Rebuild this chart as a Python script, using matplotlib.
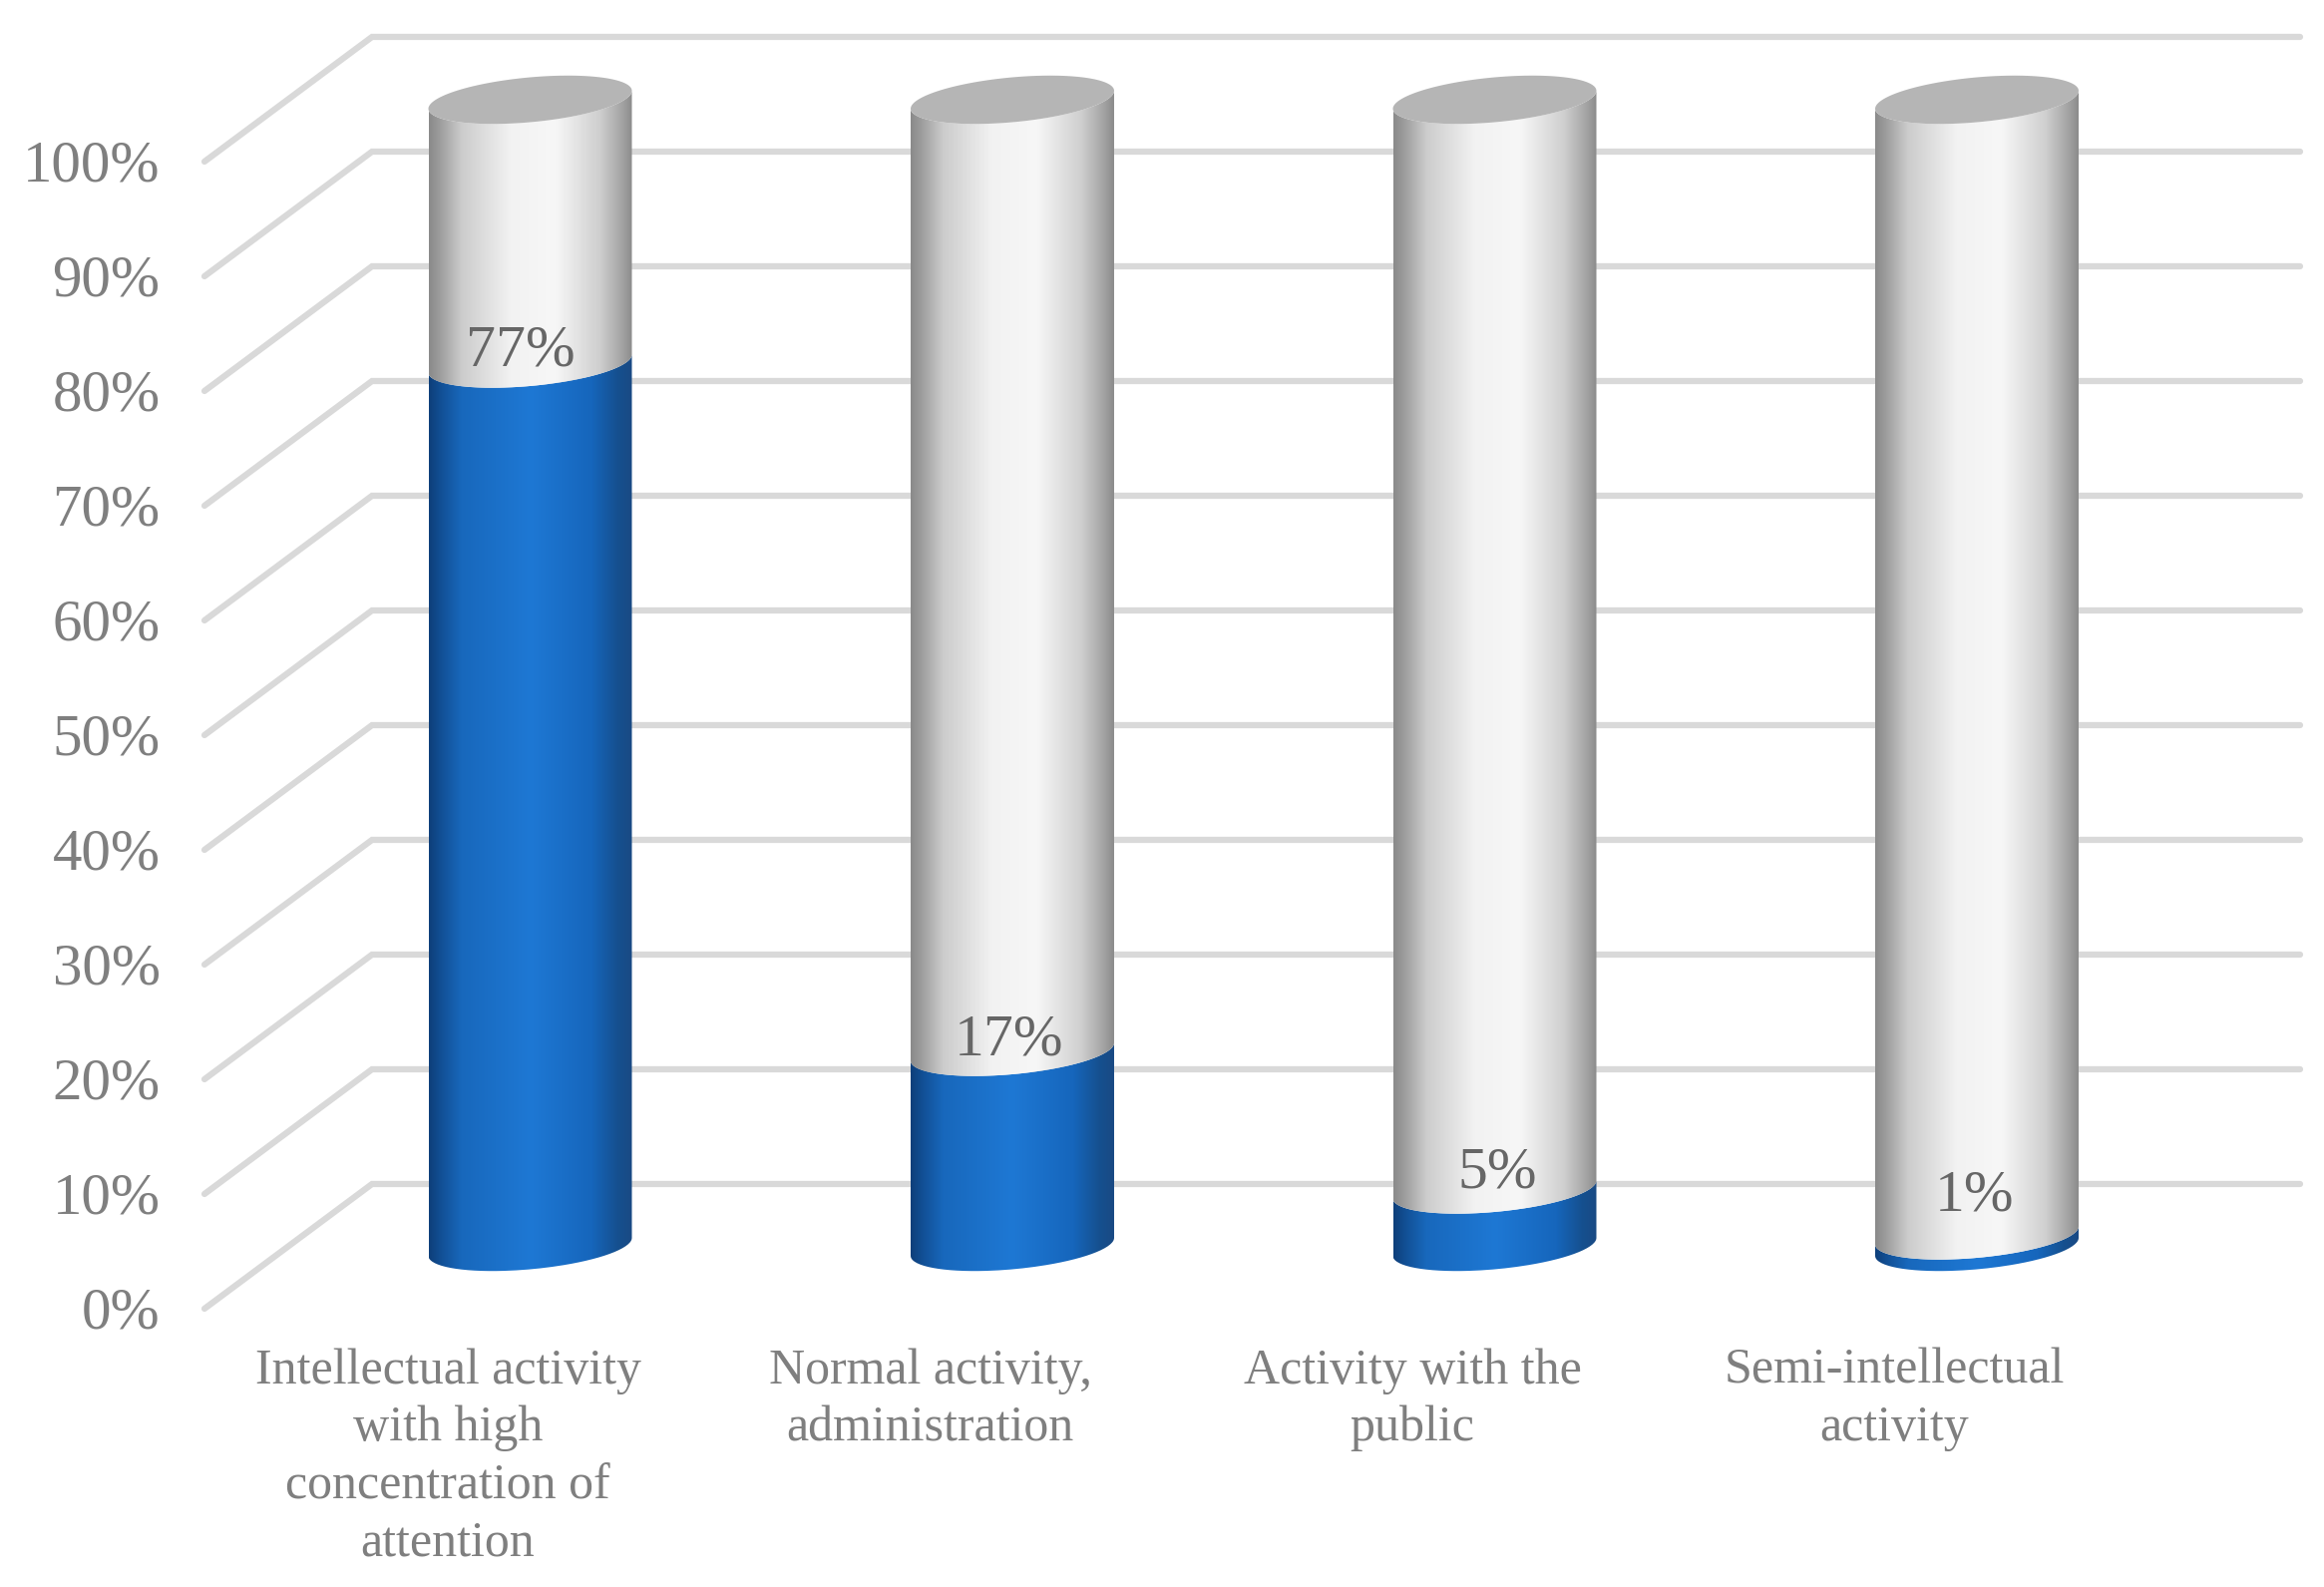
import numpy as np
import matplotlib
matplotlib.use("Agg")
import matplotlib.pyplot as plt
from matplotlib.path import Path
from matplotlib.patches import PathPatch
from matplotlib.colors import to_rgb

categories = ["Intellectual activity\nwith high\nconcentration of\nattention",
              "Normal activity,\nadministration",
              "Activity with the\npublic",
              "Semi-intellectual\nactivity"]
values = [77, 17, 5, 1]
value_labels = ["77%", "17%", "5%", "1%"]
grid_values = list(range(0, 101, 10))
grid_labels = [f"{v}%" for v in grid_values]

# ---- layout / style -------------------------------------------------------
W, H = 2330, 1591
PX_L, PX_R, PX_T, PX_B = 205, 2306, 36, 1311      # axes box in image pixels
PX_X0, PX_DX = 531.5, 483.5                        # first bar centre, bar spacing
PX_Y0, PX_DY = 1250, 11.5                          # p = 0 at bar base centre, px per %
FRONT, BACK = -5.39, 5.48                          # wall-floor depth shift in %
TICK_NUDGE = 0.12
BACK_X = (373 - PX_X0) / PX_DX
HALF_W = 102 / PX_DX
TILT, MINOR = 9 / PX_DY, 22.5 / PX_DY
LABEL_SHIFT = -82.5 / PX_DX
VAL_DX = [-10, -4, 3, -3]      # px
VAL_DY = [1, 0, 5, 28]         # px
TOP = 100

GRAY = [(0, "#8a8a8a"), (.05, "#9c9c9c"), (.16, "#cccccc"), (.4, "#f2f2f2"),
        (.62, "#f7f7f7"), (.84, "#cfcfcf"), (.95, "#a4a4a4"), (1, "#8c8c8c")]
BLUE = [(0, "#0e3f7a"), (.06, "#125096"), (.16, "#1868bc"), (.5, "#1e78d4"),
        (.8, "#1666bc"), (.93, "#15508f"), (1, "#1a4a84")]

plt.rcParams["font.family"] = ["Liberation Serif", "DejaVu Serif"]

fig = plt.figure(figsize=(W / 100, H / 100), dpi=100, facecolor="white")
ax = fig.add_axes([PX_L / W, 1 - PX_B / H, (PX_R - PX_L) / W, (PX_B - PX_T) / H])


def rim(cx, p, t):
    return cx + HALF_W * np.cos(t), p + TILT * np.cos(t) + MINOR * np.sin(t)


def body_path(cx, p0, p1):
    t = np.linspace(np.pi, 2 * np.pi, 80)
    x0, y0 = rim(cx, p0, t)
    x1, y1 = rim(cx, p1, t[::-1])
    return Path(np.column_stack([np.r_[x0, x1], np.r_[y0, y1]]))


def gradient(stops):
    u = np.linspace(0, 1, 256)
    pos = [s[0] for s in stops]
    rgb = np.array([to_rgb(s[1]) for s in stops])
    return np.stack([np.interp(u, pos, rgb[:, i]) for i in range(3)], axis=-1)[None, :, :]


def shaded(cx, p0, p1, stops, z):
    path = PathPatch(body_path(cx, p0, p1), transform=ax.transData, fc="none", ec="none")
    ax.add_patch(path)
    im = ax.imshow(gradient(stops), extent=[cx - HALF_W, cx + HALF_W, p0 - 4, p1 + 4],
                   aspect="auto", interpolation="bilinear", zorder=z)
    im.set_clip_path(path)


# gridlines: side wall + back wall
for v in grid_values:
    ax.plot([(PX_L - PX_X0) / PX_DX, BACK_X, (PX_R - PX_X0) / PX_DX],
            [v + FRONT, v + BACK, v + BACK],
            color="#d9d9d9", lw=4.5, solid_joinstyle="miter", solid_capstyle="round",
            clip_on=False, zorder=1)

xs = np.arange(len(values))
for i, (x, val) in enumerate(zip(xs, values)):
    shaded(x, 0, val, BLUE, 3)
    shaded(x, val, TOP, GRAY, 3)
    t = np.linspace(0, 2 * np.pi, 160)
    ex, ey = rim(x, TOP, t)
    ax.fill(ex, ey, color="#b5b5b5", lw=0, zorder=4)
    ax.annotate(value_labels[i], xy=(x, val - 0.25), xytext=(VAL_DX[i] * .72, VAL_DY[i] * .72),
                textcoords="offset points", ha="center", va="baseline",
                fontsize=43, color="#666666", zorder=5)

ax.set_xlim((PX_L - PX_X0) / PX_DX, (PX_R - PX_X0) / PX_DX)
ax.set_ylim((PX_Y0 - PX_B) / PX_DY, (PX_Y0 - PX_T) / PX_DY)

ax.set_yticks([v + FRONT + TICK_NUDGE for v in grid_values], grid_labels)
ax.set_xticks(xs + LABEL_SHIFT, categories)
ax.tick_params(axis="y", length=0, pad=32, labelsize=42.5, labelcolor="#7f7f7f")
ax.tick_params(axis="x", length=0, pad=29, labelsize=36, labelcolor="#7f7f7f")
for lab in ax.get_xticklabels():
    lab.set_linespacing(1.315)
for s in ax.spines.values():
    s.set_visible(False)
ax.patch.set_visible(False)

fig.savefig("out.png", dpi=100, facecolor="white")
